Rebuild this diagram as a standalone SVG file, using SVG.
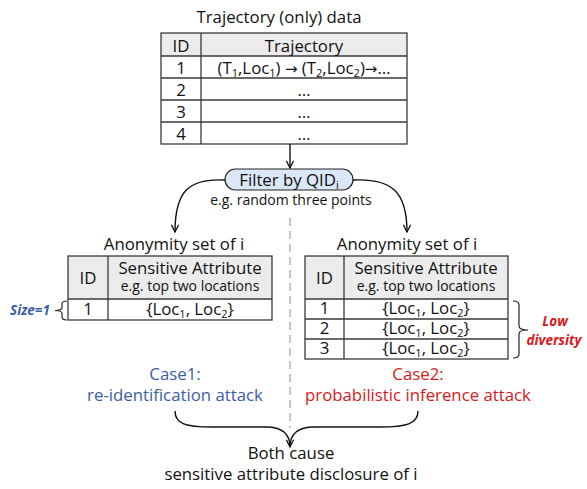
<svg xmlns="http://www.w3.org/2000/svg" width="587" height="489" viewBox="0 0 587 489">
  <defs>
    <style>
      text { font-family: "Open Sans", "Liberation Sans", sans-serif; fill: #111; text-anchor: middle; }
      .t16 { font-size: 16.8px; }
      .t14 { font-size: 14px; }
      .sub { font-size: 11px; }
      .arrowglyph { font-family: "DejaVu Sans", sans-serif; font-size: 15px; }
      .grid { fill: none; stroke: #3a3a3a; stroke-width: 1.3; }
      .head { fill: #ececec; stroke: none; }
      .cell { fill: #ffffff; stroke: none; }
      .conn { fill: none; stroke: #111; stroke-width: 1.4; }
      .brace { fill: none; stroke: #222; stroke-width: 1.2; }
      .blue { fill: #3b5ea8; }
      .red { fill: #d61a1a; }
      .note { font-size: 13.5px; font-weight: bold; font-style: italic; }
    </style>
    <marker id="arr" viewBox="0 0 10 10" refX="9" refY="5" markerWidth="9" markerHeight="9" markerUnits="userSpaceOnUse" orient="auto">
      <path d="M1,1 L9,5 L1,9" fill="none" stroke="#111" stroke-width="1.4"/>
    </marker>
  </defs>

  <rect width="587" height="489" fill="#ffffff"/>

  <!-- Source table: trajectories -->
  <g id="trajectory-table">
    <text class="t16" x="279" y="23">Trajectory (only) data</text>
    <rect class="cell" x="161" y="33" width="246" height="111"/>
    <rect class="head" x="161" y="33" width="246" height="23"/>
    <rect class="grid" x="161" y="33" width="246" height="111"/>
    <path class="grid" d="M161,56H407M161,78H407M161,100H407M161,122H407M201,33V144"/>
    <text class="t16" x="181" y="52">ID</text>
    <text class="t16" x="304" y="52">Trajectory</text>
    <text class="t16" x="181" y="74">1</text>
    <text class="t16" x="304" y="74">(T<tspan class="sub" dy="3">1</tspan><tspan dy="-3">,Loc</tspan><tspan class="sub" dy="3">1</tspan><tspan dy="-3">) </tspan><tspan class="arrowglyph">→</tspan> (T<tspan class="sub" dy="3">2</tspan><tspan dy="-3">,Loc</tspan><tspan class="sub" dy="3">2</tspan><tspan dy="-3">)</tspan><tspan class="arrowglyph">→</tspan>…</text>
    <text class="t16" x="181" y="96">2</text>
    <text class="t16" x="304" y="96">…</text>
    <text class="t16" x="181" y="118">3</text>
    <text class="t16" x="304" y="118">…</text>
    <text class="t16" x="181" y="140">4</text>
    <text class="t16" x="304" y="140">…</text>
  </g>

  <!-- Filter step -->
  <g id="filter">
    <rect x="225" y="169" width="128" height="21" rx="10.5" fill="#dbe6f6" stroke="#222" stroke-width="1.2"/>
    <text class="t16" x="289" y="185.5">Filter by QID<tspan class="sub" dy="3">i</tspan></text>
    <text class="t14" x="291" y="205">e.g. random three points</text>
  </g>

  <!-- Case 1: anonymity set of size one -->
  <g id="anonymity-set-left">
    <text class="t16" x="174" y="250">Anonymity set of i</text>
    <rect class="cell" x="68" y="256" width="204" height="64"/>
    <rect class="head" x="68" y="256" width="204" height="43"/>
    <rect class="grid" x="68" y="256" width="204" height="64"/>
    <path class="grid" d="M68,299H272M108,256V320"/>
    <text class="t16" x="88" y="284">ID</text>
    <text class="t16" x="190" y="274">Sensitive Attribute</text>
    <text class="t14" x="190" y="291">e.g. top two locations</text>
    <text class="t16" x="88" y="315">1</text>
    <text class="t16" x="190" y="315">{Loc<tspan class="sub" dy="3">1</tspan><tspan dy="-3">, Loc</tspan><tspan class="sub" dy="3">2</tspan><tspan dy="-3">}</tspan></text>
  </g>

  <g id="size-note">
    <path class="brace" d="M67,301 Q62,301 62,304 V307.5 Q62,310.5 55,310.5 Q62,310.5 62,313.5 V317 Q62,320 67,320"/>
    <text class="note blue" x="30" y="315">Size=1</text>
  </g>

  <!-- Case 2: anonymity set with identical sensitive values -->
  <g id="anonymity-set-right">
    <text class="t16" x="407" y="250">Anonymity set of i</text>
    <rect class="cell" x="305" y="256" width="203" height="103"/>
    <rect class="head" x="305" y="256" width="203" height="43"/>
    <rect class="grid" x="305" y="256" width="203" height="103"/>
    <path class="grid" d="M305,299H508M305,319H508M305,339H508M344,256V359"/>
    <text class="t16" x="324.5" y="284">ID</text>
    <text class="t16" x="426" y="274">Sensitive Attribute</text>
    <text class="t14" x="426" y="291">e.g. top two locations</text>
    <text class="t16" x="324.5" y="314">1</text>
    <text class="t16" x="426" y="314">{Loc<tspan class="sub" dy="3">1</tspan><tspan dy="-3">, Loc</tspan><tspan class="sub" dy="3">2</tspan><tspan dy="-3">}</tspan></text>
    <text class="t16" x="324.5" y="334">2</text>
    <text class="t16" x="426" y="334">{Loc<tspan class="sub" dy="3">1</tspan><tspan dy="-3">, Loc</tspan><tspan class="sub" dy="3">2</tspan><tspan dy="-3">}</tspan></text>
    <text class="t16" x="324.5" y="354">3</text>
    <text class="t16" x="426" y="354">{Loc<tspan class="sub" dy="3">1</tspan><tspan dy="-3">, Loc</tspan><tspan class="sub" dy="3">2</tspan><tspan dy="-3">}</tspan></text>
  </g>

  <g id="diversity-note">
    <path class="brace" d="M513,301 Q519,301 519,305 V326 Q519,330 528,330 Q519,330 519,334 V354 Q519,358 513,358"/>
    <text class="note red" x="555" y="326">Low</text>
    <text class="note red" x="554" y="345">diversity</text>
  </g>

  <g id="case1">
    <text class="t16 blue" x="175" y="380">Case1:</text>
    <text class="t16 blue" x="175" y="401">re-identification attack</text>
  </g>

  <g id="case2">
    <text class="t16 red" x="418" y="380">Case2:</text>
    <text class="t16 red" x="418" y="401">probabilistic inference attack</text>
  </g>

  <g id="outcome">
    <text class="t16" x="291" y="459">Both cause</text>
    <text class="t16" x="291" y="480">sensitive attribute disclosure of i</text>
  </g>

  <!-- Connectors -->
  <g id="connectors">
    <line x1="290" y1="218" x2="290" y2="428" stroke="#b3b3b3" stroke-width="1.5" stroke-dasharray="8,5"/>
    <path class="conn" d="M290,144 V168" marker-end="url(#arr)"/>
    <path class="conn" d="M225,180 C188,178 175,192 175,232" marker-end="url(#arr)"/>
    <path class="conn" d="M353,180 C392,178 407,192 407,232" marker-end="url(#arr)"/>
    <path class="conn" d="M175,411 C175,424 186,427 212,427 H266 C282,427 290,434 290,447" marker-end="url(#arr)"/>
    <path class="conn" d="M418,411 C418,424 406,427 380,427 H314 C298,427 290,434 290,447"/>
  </g>
</svg>
